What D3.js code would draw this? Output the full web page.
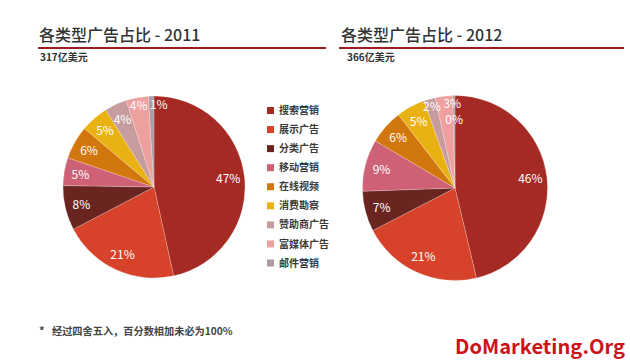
<!DOCTYPE html>
<html><head><meta charset="utf-8">
<script src="https://cdn.jsdelivr.net/npm/d3@7"></script>
<style>
html,body{margin:0;padding:0;background:#fff;}
svg{display:block;}
text{font-family:"Noto Sans CJK SC","Noto Sans",sans-serif;}
</style></head><body>
<svg id="chart" width="630" height="364"></svg>
<script>
const categories = ["搜索营销","展示广告","分类广告","移动营销","在线视频","消费勘察","赞助商广告","富媒体广告","邮件营销"];
const colors = ["#a52a24","#d6432a","#6a2521","#cf6176","#d2770e","#e9b212","#c79c9f","#eda09e","#ae9ba2"];
const values2011 = [47,21,8,5,6,5,4,4,1];
const values2012 = [46,21,7,9,6,5,2,3,0.4];
const titles = ["各类型广告占比 - 2011","各类型广告占比 - 2012"];
const totals = ["317亿美元","366亿美元"];
const footnote = "经过四舍五入，百分数相加未必为100%";
const brand = "DoMarketing.Org";

const svg = d3.select("#chart");
const panels = [
  {title:titles[0], total:totals[0], values:values2011, tx:39, lx0:38, lx1:326, sx:40, cx:154, cy:187, r:91},
  {title:titles[1], total:totals[1], values:values2012, tx:341, lx0:339, lx1:624, sx:347, cx:455, cy:188, r:92.5}
];

const pie = d3.pie().sort(null).value(d=>d);
// label placement candidates: [radius factor, angle shift in degrees]
const candidates = [[0.82,0],[0.91,0],[0.91,5],[0.82,5],[0.74,0],[0.74,5],[0.91,-5],[0.82,-5],[0.82,10],[0.91,10],[0.74,10]];

panels.forEach(p=>{
  svg.append("text").attr("x",p.tx).attr("y",41).attr("font-size",16).attr("font-weight",500)
    .attr("fill","#333").text(p.title);
  svg.append("line").attr("x1",p.lx0).attr("x2",p.lx1).attr("y1",48).attr("y2",48)
    .attr("stroke","#9c1c20").attr("stroke-width",2.2);
  svg.append("text").attr("x",p.sx).attr("y",61).attr("font-size",10).attr("font-weight",700)
    .attr("fill","#333").text(p.total);

  const g = svg.append("g").attr("transform",`translate(${p.cx},${p.cy})`);
  const arcs = pie(p.values);
  const arc = d3.arc().innerRadius(0).outerRadius(p.r);
  g.selectAll("path").data(arcs).join("path")
    .attr("d",arc).attr("fill",(d,i)=>colors[i])
    .attr("stroke","rgba(255,255,255,0.35)").attr("stroke-width",0.6);
  const labels = g.selectAll("text.lbl").data(arcs).join("text").attr("class","lbl")
    .attr("text-anchor","middle").attr("dy","0.36em")
    .attr("font-family","'Liberation Sans',Arial,sans-serif")
    .attr("font-size",12).attr("fill","#fff")
    .text(d=>Math.round(d.data)+"%");
  const placed = [];
  const pad = 1, h = 10;
  labels.each(function(d){
    const w = this.getComputedTextLength();
    const mid = (d.startAngle+d.endAngle)/2;
    let best = null;
    for (const [rf,sh] of candidates){
      const a = mid + sh*Math.PI/180, rr = p.r*rf;
      const x = Math.sin(a)*rr, y = -Math.cos(a)*rr;
      const box = {x0:x-w/2,x1:x+w/2,y0:y-h/2,y1:y+h/2};
      const hit = placed.some(b=> box.x0 < b.x1+pad && b.x0 < box.x1+pad && box.y0 < b.y1+pad && b.y0 < box.y1+pad);
      if(!hit){best={x,y,box};break;}
      if(!best) best={x,y,box};
    }
    placed.push(best.box);
    d3.select(this).attr("transform",`translate(${best.x},${best.y})`);
  });
});

// legend
const legend = svg.append("g");
const ly = d3.scaleLinear().domain([0,categories.length-1]).range([110.5,263]);
categories.forEach((c,i)=>{
  legend.append("rect").attr("x",267).attr("y",ly(i)-3.5).attr("width",7).attr("height",7).attr("fill",colors[i]);
  legend.append("text").attr("x",279).attr("y",ly(i)).attr("dy","0.36em").attr("font-size",10)
    .attr("font-weight",700).attr("fill","#3a3a3a").text(c);
});

// footnote
svg.append("text").attr("x",39).attr("y",335).attr("font-size",11).attr("font-weight",700).attr("fill","#444").text("*");
svg.append("text").attr("x",52).attr("y",331).attr("dy","0.36em").attr("font-size",10.2).attr("font-weight",700)
  .attr("fill","#444").text(footnote);

// brand
svg.append("text").attr("x",455).attr("y",354).attr("font-family","'DejaVu Serif',serif")
  .attr("font-weight",700).attr("font-size",20).attr("fill","#cc1417")
  .attr("textLength",170).attr("lengthAdjust","spacingAndGlyphs").text(brand);
</script>
</body></html>
